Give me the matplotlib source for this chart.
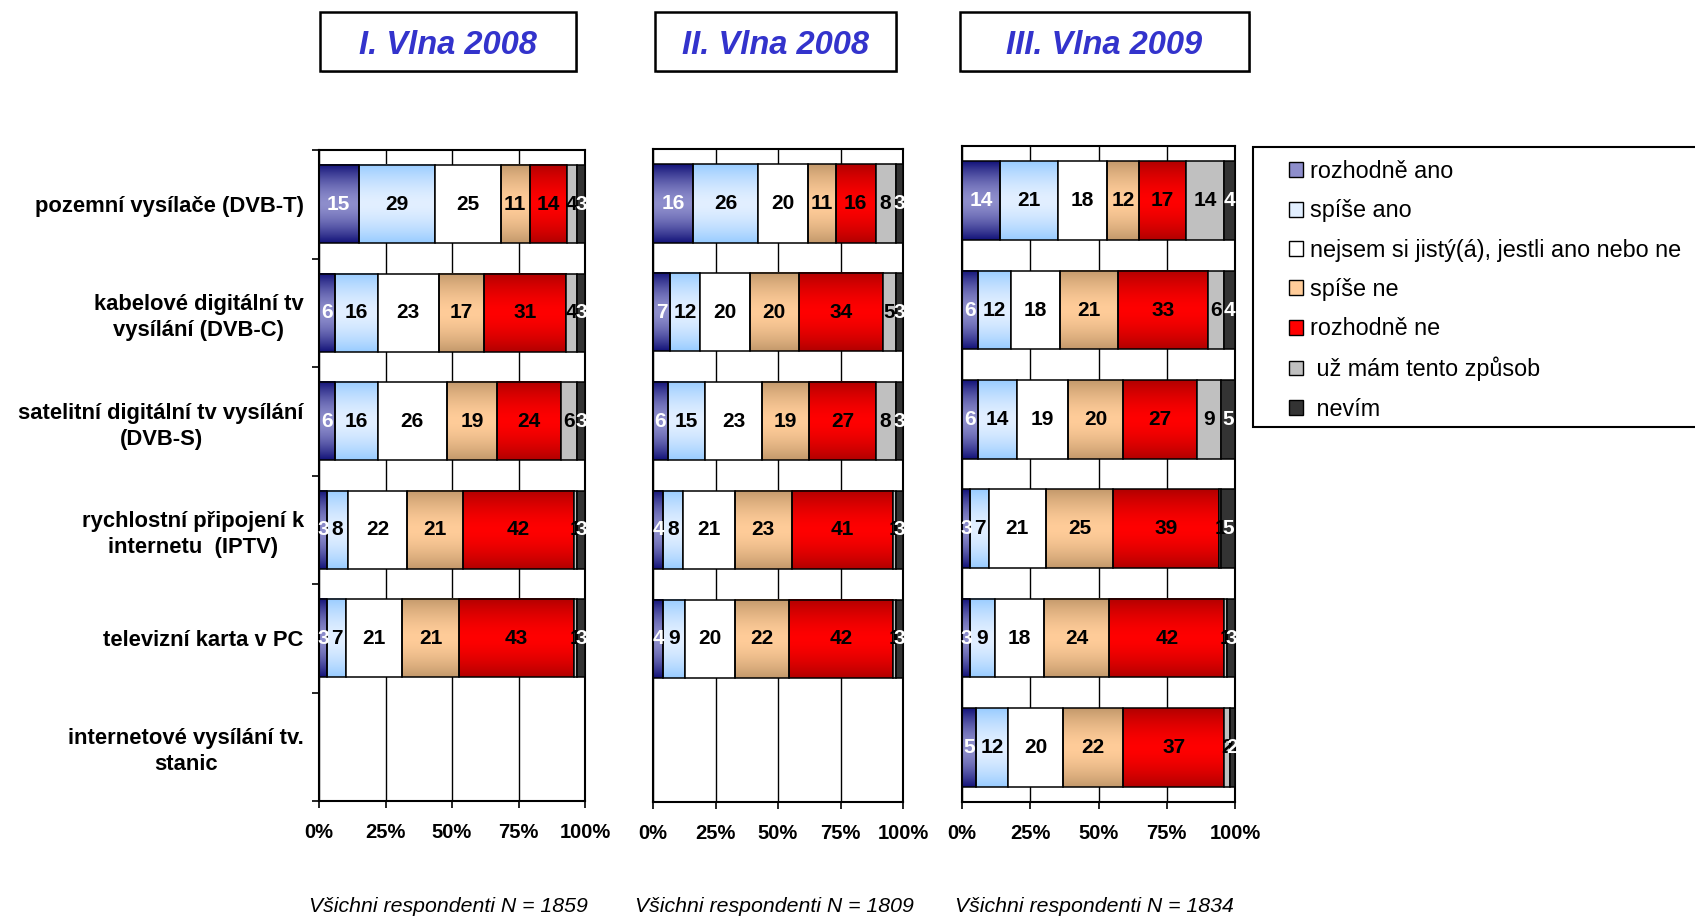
import numpy as np
import matplotlib
matplotlib.use("Agg")
import matplotlib.pyplot as plt
from matplotlib.patches import Patch, Rectangle
from matplotlib.colors import to_rgb

plt.rcParams["font.family"] = ["Liberation Sans", "DejaVu Sans"]

categories = [
    "pozemní vysílače (DVB-T)",
    "kabelové digitální tv\nvysílání (DVB-C)",
    "satelitní digitální tv vysílání\n(DVB-S)",
    "rychlostní připojení k\ninternetu  (IPTV)",
    "televizní karta v PC",
    "internetové vysílání tv.\nstanic",
]
series = [
    "rozhodně ano",
    "spíše ano",
    "nejsem si jistý(á), jestli ano nebo ne",
    "spíše ne",
    "rozhodně ne",
    " už mám tento způsob",
    " nevím",
]

wave_titles = ["I. Vlna 2008", "II. Vlna 2008", "III. Vlna 2009"]
wave_n = [1859, 1809, 1834]

wave1 = [
    [15, 29, 25, 11, 14, 4, 3],
    [6, 16, 23, 17, 31, 4, 3],
    [6, 16, 26, 19, 24, 6, 3],
    [3, 8, 22, 21, 42, 1, 3],
    [3, 7, 21, 21, 43, 1, 3],
    None,
]
wave2 = [
    [16, 26, 20, 11, 16, 8, 3],
    [7, 12, 20, 20, 34, 5, 3],
    [6, 15, 23, 19, 27, 8, 3],
    [4, 8, 21, 23, 41, 1, 3],
    [4, 9, 20, 22, 42, 1, 3],
    None,
]
wave3 = [
    [14, 21, 18, 12, 17, 14, 4],
    [6, 12, 18, 21, 33, 6, 4],
    [6, 14, 19, 20, 27, 9, 5],
    [3, 7, 21, 25, 39, 1, 5],
    [3, 9, 18, 24, 42, 1, 3],
    [5, 12, 20, 22, 37, 2, 2],
]
waves = [wave1, wave2, wave3]

# middle colour of each segment; edge colour gives a vertical gradient
mid_cols = ["#8e8ecc", "#e2efff", "#ffffff", "#ffcc99", "#ff0000", "#c0c0c0", "#333333"]
edge_cols = ["#14147a", "#99ccff", None, "#c49a6c", "#b30000", None, None]
label_cols = ["white", "black", "black", "black", "black", "black", "white"]

W, H = 1695, 918


def fig_rect(x0, y0, x1, y1):
    return [x0 / W, 1 - y1 / H, (x1 - x0) / W, (y1 - y0) / H]


def grad_img(edge, mid, n=64):
    u = np.linspace(0, 1, n)
    w = np.abs(2 * u - 1) ** 1.6
    e = np.array(to_rgb(edge))
    m = np.array(to_rgb(mid))
    return (m[None, :] * (1 - w[:, None]) + e[None, :] * w[:, None])[:, None, :]


fig = plt.figure(figsize=(W / 100, H / 100), dpi=100)

panel_boxes = [(319, 150, 585, 801), (653, 149, 903, 802), (962, 146, 1235, 802)]
title_boxes = [(320, 12, 576, 71), (655, 12, 896, 71), (960, 12, 1249, 71)]

ypos = np.arange(len(categories))

for p, (data, box) in enumerate(zip(waves, panel_boxes)):
    ax = fig.add_axes(fig_rect(*box))
    rows = [i for i, r in enumerate(data) if r is not None]
    vals = np.array([data[i] for i in rows], dtype=float)
    shares = vals / vals.sum(axis=1, keepdims=True) * 100
    lefts = np.cumsum(shares, axis=1) - shares

    for k in range(len(series)):
        grad = edge_cols[k] is not None
        bars = ax.barh(ypos[rows], shares[:, k], left=lefts[:, k], height=0.72,
                       facecolor="none" if grad else mid_cols[k],
                       edgecolor="black", linewidth=1.1, zorder=3)
        for bar, v in zip(bars, vals[:, k]):
            x0, y0 = bar.get_x(), bar.get_y()
            if grad:
                ax.imshow(grad_img(edge_cols[k], mid_cols[k]),
                          extent=(x0, x0 + bar.get_width(), y0 + bar.get_height(), y0),
                          aspect="auto", interpolation="bilinear", zorder=2)
            ax.text(x0 + bar.get_width() / 2, y0 + bar.get_height() / 2, f"{v:.0f}",
                    ha="center", va="center", fontsize=15, fontweight="bold",
                    color=label_cols[k], zorder=4)

    ax.set_xlim(0, 100)
    ax.set_ylim(len(categories) - 0.5, -0.5)
    ax.set_axisbelow(True)
    ax.xaxis.grid(True, color="black", linewidth=1.0)
    ax.set_xticks([0, 25, 50, 75, 100])
    ax.set_xticklabels(["0%", "25%", "50%", "75%", "100%"], fontsize=14.5, fontweight="bold")
    ax.tick_params(axis="x", direction="out", length=5, width=1.2, pad=11)
    for s in ax.spines.values():
        s.set_linewidth(1.5)

    if p == 0:
        ax.set_yticks(ypos)
        ax.set_yticklabels(categories, fontsize=15.8, fontweight="bold")
        for lbl in ax.get_yticklabels():
            lbl.set_multialignment("center")
            lbl.set_linespacing(1.3)
        ax.set_yticks(np.arange(-0.5, len(categories)), minor=True)
        ax.tick_params(axis="y", which="major", length=0, pad=11)
        ax.tick_params(axis="y", which="minor", direction="out", length=5, width=1.2)
    else:
        ax.set_yticks([])

    cx = (box[0] + box[2]) / 2
    fig.text((cx - 4) / W, 1 - 907 / H, f"Všichni respondenti N = {wave_n[p]}",
             style="italic", fontsize=15.3, ha="center", va="center")

# wave title boxes
for title, (x0, y0, x1, y1) in zip(wave_titles, title_boxes):
    fig.patches.append(Rectangle(((x0 + 2) / W, 1 - (y1 + 2) / H), (x1 - x0) / W, (y1 - y0) / H,
                                 transform=fig.transFigure, facecolor="#b0b0b0",
                                 edgecolor="none", zorder=1))
    fig.patches.append(Rectangle((x0 / W, 1 - y1 / H), (x1 - x0) / W, (y1 - y0) / H,
                                 transform=fig.transFigure, facecolor="white",
                                 edgecolor="black", linewidth=1.8, zorder=2))
    fig.text((x0 + x1) / 2 / W, 1 - ((y0 + y1) / 2 + 4) / H, title,
             fontsize=23.5, fontweight="bold", style="italic", color="#3333cc",
             ha="center", va="center", zorder=3)

# legend frame runs off the right edge
fig.patches.append(Rectangle((1253 / W, 1 - 427 / H), 460 / W, 280 / H,
                             transform=fig.transFigure, facecolor="white",
                             edgecolor="black", linewidth=1.5, zorder=1))
handles = [Patch(facecolor=c, edgecolor="black", linewidth=1.0) for c in mid_cols]
fig.legend(handles, series, loc="upper left", bbox_to_anchor=(1289 / W, 1 - 160 / H),
           frameon=False, fontsize=16.8, handlelength=0.6, handleheight=0.6,
           handletextpad=0.3, labelspacing=0.7, borderpad=0, borderaxespad=0)

fig.savefig("out.png", dpi=100)
